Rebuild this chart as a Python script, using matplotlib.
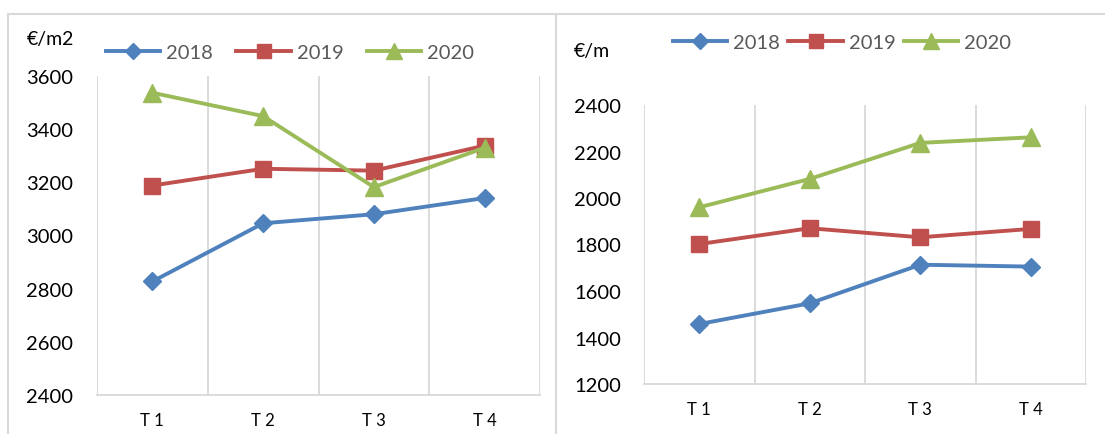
import matplotlib
matplotlib.use("Agg")
import matplotlib.pyplot as plt
from matplotlib.patches import Rectangle
from matplotlib.ticker import FixedLocator

# Quarterly values
quarters = ["T 1", "T 2", "T 3", "T 4"]
years = ["2018", "2019", "2020"]

price_m2 = {
    "2018": [2827, 3046, 3080, 3141],
    "2019": [3188, 3251, 3244, 3338],
    "2020": [3537, 3449, 3182, 3330],
}
price_m = {
    "2018": [1458, 1547, 1713, 1705],
    "2019": [1802, 1870, 1831, 1867],
    "2020": [1960, 2082, 2237, 2261],
}

left_ticks = [2400, 2600, 2800, 3000, 3200, 3400, 3600]
right_ticks = [1200, 1400, 1600, 1800, 2000, 2200, 2400]

colors = {"2018": "#4F81BD", "2019": "#C0504D", "2020": "#9BBB59"}
markers = {"2018": ("D", 9.5), "2019": ("s", 12), "2020": ("^", 13)}

plt.rcParams["font.family"] = ["Lato", "DejaVu Sans"]

fig = plt.figure(figsize=(11.05, 4.35), dpi=100)
W, H = 1105, 435

# Chart frames
for x0, x1 in [(8, 556), (556, 1110)]:
    fig.patches.append(Rectangle((x0 / W, -0.05), (x1 - x0) / W, 1 - 15 / H + 0.05,
                                 transform=fig.transFigure, fill=False,
                                 edgecolor="#d9d9d9", linewidth=1.5))


def panel(rect, data, ticks, unit, unit_xy, legend_xy, ypad, colspace):
    ax = fig.add_axes(rect)
    x = list(range(len(quarters)))
    for y in years:
        m, ms = markers[y]
        ax.plot(x, data[y], color=colors[y], linewidth=2.8, marker=m,
                markersize=ms, label=y, zorder=3)
    ax.set_xlim(-0.5, len(quarters) - 0.5)
    ax.set_ylim(ticks[0], ticks[-1])
    ax.set_yticks(ticks)
    ax.set_xticks(x)
    ax.set_xticklabels(quarters, fontsize=12)
    ax.xaxis.set_minor_locator(FixedLocator([i - 0.5 for i in range(len(quarters) + 1)]))
    ax.grid(which="minor", axis="x", color="#d9d9d9", linewidth=1.3)
    ax.tick_params(axis="both", which="both", length=0)
    ax.tick_params(axis="y", labelsize=14.5, pad=ypad)
    ax.tick_params(axis="x", pad=12)
    for s in ["top", "left", "right"]:
        ax.spines[s].set_visible(False)
    ax.spines["bottom"].set_color("#d9d9d9")
    ax.spines["bottom"].set_linewidth(1.3)
    fig.text(unit_xy[0] / W, 1 - unit_xy[1] / H, unit, fontsize=14,
             ha="left", va="center")
    leg = fig.legend(handles=ax.get_lines(), loc="center left",
                     bbox_to_anchor=(legend_xy[0] / W, 1 - legend_xy[1] / H),
                     ncol=3, frameon=False, fontsize=14.5, handlelength=2.7,
                     handletextpad=0.3, columnspacing=colspace, borderaxespad=0,
                     borderpad=0, markerscale=0.85)
    for t in leg.get_texts():
        t.set_color("#595959")
    return ax


panel([97 / W, 1 - 396 / H, 443 / W, 319 / H], price_m2, left_ticks,
      "€/m2", (27, 40), (106, 53), 17, 1.15)
panel([644 / W, 1 - 385 / H, 442 / W, 279 / H], price_m, right_ticks,
      "€/m", (574, 52), (673, 43), 16.5, 0.4)

fig.savefig("out.png", dpi=100)
